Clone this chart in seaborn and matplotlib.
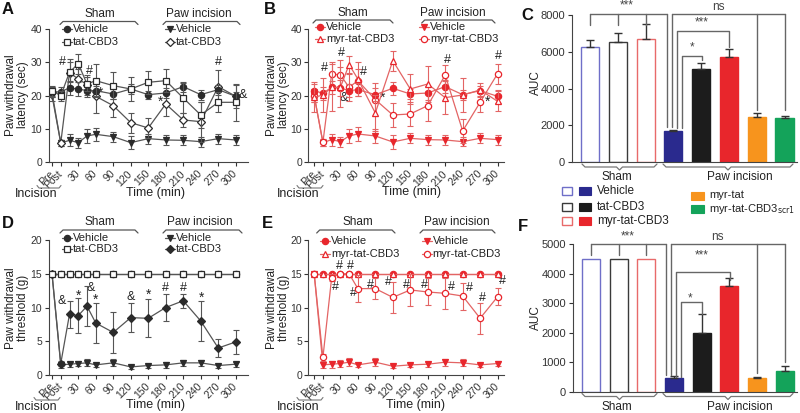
import matplotlib
matplotlib.use("Agg")
import matplotlib.pyplot as plt
import seaborn as sns
import numpy as np
import pandas as pd
from matplotlib.lines import Line2D
from matplotlib.patches import Rectangle

sns.set_theme(style="ticks")
plt.rcParams['font.family'] = ['Liberation Sans', 'DejaVu Sans']

W, H = 800, 413

# ---------------- data ----------------
times = [-15, 0, 15, 30, 45, 60, 90, 120, 150, 180, 210, 240, 270, 300]
tick_times = [-15, 0, 30, 60, 90, 120, 150, 180, 210, 240, 270, 300]
tick_labels = ["Pre", "Post", "30", "60", "90", "120", "150", "180", "210", "240", "270", "300"]

# Panel A (latency, tat-CBD3)
a_sham_veh = [21.0, 21.2, 22.3, 22.0, 21.5, 21.5, 20.5, 22.0, 20.3, 20.8, 22.7, 20.3, 21.8, 19.8]
a_sham_veh_err = [1.5, 1.5, 2.0, 2.0, 2.0, 1.5, 1.5, 1.5, 1.2, 1.5, 1.5, 1.5, 1.5, 1.2]
a_sham_tat = [21.5, 20.0, 27.0, 29.6, 23.5, 24.5, 23.0, 22.0, 24.0, 24.5, 19.3, 14.2, 18.0, 18.0]
a_sham_tat_err = [1.5, 1.5, 3.0, 3.0, 2.0, 5.0, 4.0, 3.5, 3.5, 3.5, 4.5, 4.0, 3.0, 5.5]
a_paw_veh = [20.0, 5.8, 6.6, 5.9, 7.9, 8.4, 7.7, 5.9, 7.1, 6.7, 6.6, 6.2, 7.1, 6.7]
a_paw_veh_err = [1.5, 1.0, 1.8, 1.5, 2.0, 2.0, 1.5, 2.0, 1.5, 1.5, 1.5, 1.5, 1.5, 1.5]
a_paw_tat = [21.0, 5.8, 26.9, 25.0, 23.3, 19.8, 17.0, 11.9, 10.3, 17.5, 12.7, 12.2, 22.7, 19.8]
a_paw_tat_err = [1.5, 1.0, 4.0, 3.0, 3.0, 5.0, 3.5, 3.0, 3.0, 3.5, 2.0, 6.0, 5.0, 3.5]

# Panel B (latency, myr-tat-CBD3)
b_sham_veh = [21.5, 20.7, 22.5, 22.3, 21.5, 21.8, 20.3, 22.2, 20.5, 20.8, 22.7, 20.3, 21.5, 19.8]
b_sham_veh_err = [2.0, 2.0, 2.0, 2.5, 2.0, 2.0, 2.0, 2.0, 1.5, 2.0, 2.0, 1.5, 1.5, 2.0]
b_sham_myr = [19.5, 20.2, 22.5, 22.5, 29.3, 25.0, 14.8, 30.5, 22.0, 23.5, 19.4, 20.2, 21.7, 18.3]
b_sham_myr_err = [4.5, 5.0, 7.0, 6.0, 2.5, 5.0, 5.5, 3.0, 4.5, 5.5, 5.0, 5.0, 2.0, 3.0]
b_paw_veh = [20.0, 5.9, 6.8, 6.2, 7.9, 8.5, 7.9, 6.1, 7.2, 6.8, 6.7, 6.2, 7.2, 6.8]
b_paw_veh_err = [2.0, 1.0, 1.8, 1.5, 2.0, 2.0, 2.0, 2.0, 1.5, 1.5, 1.5, 1.3, 1.5, 1.5]
b_paw_myr = [20.0, 6.0, 26.5, 26.2, 22.5, 24.5, 18.8, 14.2, 14.5, 17.0, 26.2, 9.4, 18.0, 26.6]
b_paw_myr_err = [2.0, 1.0, 3.5, 4.5, 4.0, 3.5, 5.0, 3.5, 3.5, 4.5, 3.0, 3.5, 3.0, 3.0]

# Panel D (threshold, tat-CBD3)
d_sham_veh = [15.0, 15.0, 15.0, 15.0, 15.0, 15.0, 15.0, 15.0, 15.0, 15.0, 15.0, 15.0, 15.0, 15.0]
d_sham_tat = [15.0, 15.0, 15.0, 15.0, 15.0, 15.0, 15.0, 15.0, 15.0, 15.0, 15.0, 15.0, 15.0, 15.0]
d_paw_veh = [15.0, 1.5, 1.6, 1.7, 1.8, 1.5, 1.8, 1.2, 1.4, 1.5, 1.8, 1.8, 1.4, 1.6]
d_paw_veh_err = [0.0, 0.5, 0.4, 0.4, 0.5, 0.3, 0.5, 0.3, 0.3, 0.4, 0.4, 0.4, 0.3, 0.4]
d_paw_tat = [15.0, 1.7, 9.0, 8.8, 10.2, 7.7, 6.3, 8.5, 8.4, 10.0, 11.0, 8.0, 4.0, 4.9]
d_paw_tat_err = [0.0, 0.4, 2.0, 2.6, 3.0, 3.0, 3.0, 2.2, 2.8, 2.0, 1.0, 2.9, 1.3, 1.8]

# Panel E (threshold, myr-tat-CBD3)
e_sham_veh = [15.0, 15.0, 15.0, 15.0, 15.0, 15.0, 15.0, 15.0, 15.0, 15.0, 15.0, 15.0, 15.0, 15.0]
e_sham_myr = [15.0, 15.0, 15.0, 15.0, 15.0, 15.0, 15.0, 15.0, 15.0, 15.0, 15.0, 15.0, 15.0, 15.0]
e_paw_veh = [15.0, 1.5, 1.6, 1.7, 1.9, 1.5, 1.9, 1.3, 1.5, 1.6, 1.9, 1.8, 1.5, 1.7]
e_paw_veh_err = [0.0, 0.4, 0.5, 0.5, 0.6, 0.3, 0.6, 0.3, 0.3, 0.4, 0.5, 0.5, 0.3, 0.4]
e_paw_myr = [15.0, 2.6, 14.4, 15.0, 15.0, 12.8, 12.8, 11.5, 12.6, 12.3, 12.1, 11.7, 8.4, 11.6]
e_paw_myr_err = [0.0, 0.5, 0.5, 0.0, 0.0, 2.0, 1.5, 2.3, 2.4, 2.0, 2.3, 2.0, 2.3, 1.3]

# Panels C and F (AUC)
bar_groups = ["Sham Vehicle", "Sham tat-CBD3", "Sham myr-tat-CBD3", "Paw Vehicle",
              "Paw tat-CBD3", "Paw myr-tat-CBD3", "Paw myr-tat", "Paw myr-tat-CBD3scr1"]
c_auc = [6250, 6550, 6700, 1680, 5080, 5720, 2480, 2430]
c_err = [380, 450, 800, 60, 320, 420, 180, 60]
f_auc = [4500, 4500, 4500, 450, 2000, 3580, 480, 700]
f_err = [0, 0, 0, 90, 620, 280, 30, 160]

# ---------------- styles ----------------
DARK = "#2b2b2b"
GLINE = "#555555"
RED = "#e8262c"
RLINE = "#e36464"
NAVY = "#2a2a8e"
ORANGE = "#f7941d"
GREEN = "#14a35a"
SHAM_EDGE = ["#6f6fc8", "#3a3a3a", "#e86a6a"]
BAR_FILL = ["white", "white", "white", NAVY, "#1c1c1c", RED, ORANGE, GREEN]
BAR_EDGE = SHAM_EDGE + [NAVY, "#1c1c1c", RED, ORANGE, GREEN]

fig = plt.figure(figsize=(8, 4.13), dpi=100)


def add_ax(x0, y0, x1, y1):
    return fig.add_axes([x0 / W, 1 - y1 / H, (x1 - x0) / W, (y1 - y0) / H])


def T(x, y, s, **kw):
    kw.setdefault("fontsize", 8.5)
    kw.setdefault("color", "#222222")
    fig.text(x / W, 1 - y / H, s, **kw)


def fline(pts, color="#555555", lw=0.9):
    xs = [p[0] / W for p in pts]
    ys = [1 - p[1] / H for p in pts]
    fig.add_artist(Line2D(xs, ys, color=color, lw=lw, transform=fig.transFigure))


def header(xc, yt, x0, x1, yl, text):
    T(xc, yt, text, ha="center", va="center")
    fline([(x0, yl + 3), (x0 + 3, yl), (x1 - 3, yl), (x1, yl + 3)])


def leg_item(x, y, marker, mfc, mec, lc, text, ms=4.5):
    fig.add_artist(Line2D([(x - 5) / W, (x + 5) / W], [1 - y / H] * 2, color=lc, lw=0.9,
                          transform=fig.transFigure))
    fig.add_artist(Line2D([x / W], [1 - y / H], marker=marker, mfc=mfc, mec=mec, ms=ms,
                          mew=0.9, ls="none", transform=fig.transFigure))
    T(x + 6, y, text, ha="left", va="center", fontsize=8)


def style_line_ax(ax, xlim, ylim, yticks):
    ax.set_xlim(*xlim)
    ax.set_ylim(*ylim)
    ax.set_yticks(yticks)
    ax.set_xticks(tick_times)
    ax.set_xticklabels(tick_labels, rotation=45, ha="right", va="center",
                       rotation_mode="anchor")
    ax.tick_params(axis="both", length=3, width=0.8, labelsize=7.5, colors="#333333", pad=1.5)
    ax.tick_params(axis="x", pad=4)
    for s in ["left", "bottom"]:
        ax.spines[s].set_linewidth(0.8)
        ax.spines[s].set_color("#444444")
    sns.despine(ax=ax)
    ax.set_xlabel("")
    ax.set_ylabel("")


def draw_series(ax, y, err, marker, mfc, mec, lc, z, ms=4.5):
    if err is not None:
        ax.errorbar(times, y, yerr=err, fmt="none", ecolor=lc, elinewidth=0.8,
                    capsize=2, capthick=0.8, zorder=z - 0.5)
    sns.lineplot(x=times, y=y, ax=ax, color=lc, lw=0.9, marker=marker, ms=ms,
                 markerfacecolor=mfc, markeredgecolor=mec, markeredgewidth=0.9,
                 zorder=z, errorbar=None, legend=False)


def annot(ax, items, color="#222222"):
    for (x, y, s) in items:
        fs = 10 if s == "*" else 9
        ax.text(x, y, s, ha="center", va="center", fontsize=fs, color=color, clip_on=False)


# ---------------- Panel A ----------------
axA = add_ax(48.5, 29, 248, 162.3)
draw_series(axA, a_paw_veh, a_paw_veh_err, "v", DARK, DARK, GLINE, 3)
draw_series(axA, a_paw_tat, a_paw_tat_err, "D", "white", DARK, GLINE, 4, ms=4)
draw_series(axA, a_sham_veh, a_sham_veh_err, "o", DARK, DARK, GLINE, 5)
draw_series(axA, a_sham_tat, a_sham_tat_err, "s", "white", DARK, GLINE, 6)
style_line_ax(axA, (-21, 321), (0, 40), [0, 10, 20, 30, 40])
annot(axA, [(3, 30, "#"), (31, 28.5, "#"), (50, 27.3, "#"), (69, 21, "*"), (171, 18.2, "*"),
            (270, 30, "#"), (312, 20.3, "&")])

# ---------------- Panel B ----------------
axB = add_ax(308.3, 29, 504, 162.3)
draw_series(axB, b_paw_veh, b_paw_veh_err, "v", RED, RED, RLINE, 3)
draw_series(axB, b_paw_myr, b_paw_myr_err, "o", "white", RED, RLINE, 4)
draw_series(axB, b_sham_veh, b_sham_veh_err, "o", RED, RED, RLINE, 5)
draw_series(axB, b_sham_myr, b_sham_myr_err, "^", "white", RED, RLINE, 6)
style_line_ax(axB, (-25.1, 311), (0, 40), [0, 10, 20, 30, 40])
annot(axB, [(2, 28.2, "#"), (31, 32.7, "#"), (70, 27.2, "#"), (35, 19.3, "&"), (102, 19.3, "*"),
            (213, 30.7, "#"), (282, 18.2, "*"), (302, 31.9, "#")])

# ---------------- Panel D ----------------
axD = add_ax(48.5, 240, 248, 375)
draw_series(axD, d_paw_veh, d_paw_veh_err, "v", DARK, DARK, GLINE, 3)
draw_series(axD, d_paw_tat, d_paw_tat_err, "D", DARK, DARK, GLINE, 4, ms=4)
draw_series(axD, d_sham_veh, None, "o", DARK, DARK, GLINE, 5)
draw_series(axD, d_sham_tat, None, "s", "white", DARK, GLINE, 6)
style_line_ax(axD, (-21, 321), (0, 20), [0, 5, 10, 15, 20])
annot(axD, [(2, 11.0, "&"), (30, 11.8, "*"), (52, 12.9, "&"), (60, 11.1, "*"), (120, 11.5, "&"),
            (151, 11.9, "*"), (180, 12.9, "#"), (210, 12.9, "#"), (241, 11.5, "*")])

# ---------------- Panel E ----------------
axE = add_ax(308.3, 240, 504, 375)
draw_series(axE, e_paw_veh, e_paw_veh_err, "v", RED, RED, RLINE, 3)
draw_series(axE, e_sham_veh, None, "o", RED, RED, RLINE, 4)
draw_series(axE, e_sham_myr, None, "^", "white", RED, RLINE, 5)
draw_series(axE, e_paw_myr, e_paw_myr_err, "o", "white", RED, RLINE, 6)
style_line_ax(axE, (-25.1, 311), (0, 20), [0, 5, 10, 15, 20])
annot(axE, [(28, 16.1, "#"), (22, 13.0, "#"), (48, 16.1, "#"), (52, 12.2, "#"), (81, 13.3, "#"),
            (112, 13.8, "#"), (144, 13.4, "#"), (174, 13.4, "#"), (220, 13.1, "#"),
            (251, 12.9, "#"), (274, 11.4, "#"), (308, 13.9, "#")])


# ---------------- Bar panels ----------------
def bar_panel(ax, vals, errs, ymax, yticks):
    df = pd.DataFrame({"group": bar_groups, "AUC": vals})
    sns.barplot(data=df, x="group", y="AUC", ax=ax, order=bar_groups, color="white",
                width=0.65, errorbar=None, linewidth=1.0)
    for p, fc, ec in zip(ax.patches, BAR_FILL, BAR_EDGE):
        p.set_facecolor(fc)
        p.set_edgecolor(ec)
        p.set_linewidth(1.0)
    xs = [i for i, e in enumerate(errs) if e > 0]
    ax.errorbar(xs, [vals[i] for i in xs], yerr=[[0] * len(xs), [errs[i] for i in xs]],
                fmt="none", ecolor="#333333", elinewidth=1.0, capsize=3, capthick=1.0, zorder=1)
    ax.set_xlim(-0.65, 7.45)
    ax.set_ylim(0, ymax)
    ax.set_yticks(yticks)
    ax.set_xticks([])
    ax.set_xlabel("")
    ax.set_ylabel("")
    ax.tick_params(axis="y", length=3, width=0.8, labelsize=8, colors="#333333", pad=2)
    for s in ["left", "bottom"]:
        ax.spines[s].set_linewidth(0.8)
        ax.spines[s].set_color("#444444")
    sns.despine(ax=ax)


def seg(ax, xs, ys):
    ax.add_line(Line2D(xs, ys, color="#666666", lw=1.0, clip_on=False))


def brackets(ax, top, sham_drop, left_end, left_drop, ns_left, ns_drops,
             b3, b1, txt):
    seg(ax, [0, left_end], [top, top])
    for i in [0, 1, 2]:
        seg(ax, [i, i], [top, sham_drop])
    seg(ax, [left_end, left_end], [top, left_drop])
    seg(ax, [ns_left, 7.01], [top, top])
    for (x, yb) in ns_drops:
        seg(ax, [x, x], [top, yb])
    (x0, x1, yh, yl0, yr) = b3
    seg(ax, [x0, x0, x1, x1], [yl0, yh, yh, yr])
    (x0, x1, yh, yl0, yr) = b1
    seg(ax, [x0, x0, x1, x1], [yl0, yh, yh, yr])
    for (x, y, s) in txt:
        ax.text(x, y, s, ha="center", va="center", fontsize=8.5, color="#444444", clip_on=False)


axC = add_ax(572, 15, 797, 162.3)
bar_panel(axC, c_auc, c_err, 8000, [0, 2000, 4000, 6000, 8000])
brackets(axC, 8050, 7450, 2.76, 1940, 2.94, [(2.94, 1940), (6.0, 2840), (7.01, 2840)],
         (3.12, 5.01, 7150, 1850, 6280), (3.3, 4.02, 5770, 1850, 5560),
         [(1.32, 8500, "***"), (4.62, 8450, "ns"), (4.02, 7600, "***"), (3.68, 6250, "*")])

axF = add_ax(573, 244, 797, 391.7)
bar_panel(axF, f_auc, f_err, 5000, [0, 1000, 2000, 3000, 4000, 5000])
brackets(axF, 5000, 4630, 2.7, 560, 2.88, [(2.88, 560), (6.0, 620), (7.01, 1020)],
         (3.06, 5.01, 4060, 510, 3780), (3.26, 4.02, 3025, 510, 2630),
         [(1.32, 5270, "***"), (4.56, 5230, "ns"), (4.0, 4600, "***"), (3.6, 3170, "*")])


def brace(x0, x1, y, xm=None):
    if xm is None:
        xm = (x0 + x1) / 2
    fline([(x0, y - 3), (x0 + 3, y), (xm - 3, y), (xm, y + 3), (xm + 3, y), (x1 - 3, y), (x1, y - 3)],
          color="#777777", lw=0.9)


brace(582, 657, 167)
brace(663, 793, 167)
T(617, 176.5, "Sham", ha="center", va="center")
T(740, 176.5, "Paw incision", ha="center", va="center")
brace(582, 657, 396.5)
brace(663, 793, 396.5)
T(617, 406.5, "Sham", ha="center", va="center")
T(740, 406.5, "Paw incision", ha="center", va="center")

T(536, 83, "AUC", rotation=90, ha="center", va="center")
T(536, 318, "AUC", rotation=90, ha="center", va="center")

# bar legend
leg_rows = [(191, "Vehicle", 0), (206.5, "tat-CBD3", 1), (221, "myr-tat-CBD3", 2)]
for (y, lab, i) in leg_rows:
    fig.add_artist(Rectangle((562 / W, 1 - (y + 4) / H), 10 / W, 8 / H, facecolor="white",
                             edgecolor=SHAM_EDGE[i], lw=1.0, transform=fig.transFigure))
    fig.add_artist(Rectangle((579 / W, 1 - (y + 4) / H), 12 / W, 8 / H, facecolor=BAR_FILL[3 + i],
                             edgecolor=BAR_EDGE[3 + i], lw=0.8, transform=fig.transFigure))
    T(597, y, lab, ha="left", va="center", fontsize=8.5)
for (y, lab, c) in [(195.5, "myr-tat", ORANGE), (209.5, "myr-tat-CBD3$_{\\mathrm{scr1}}$", GREEN)]:
    fig.add_artist(Rectangle((691 / W, 1 - (y + 4) / H), 13 / W, 8 / H, facecolor=c,
                             edgecolor=c, lw=0.8, transform=fig.transFigure))
    T(709, y, lab, ha="left", va="center", fontsize=8)

# ---------------- headers / legends for line panels ----------------
header(100, 14, 60, 138, 21.5, "Sham")
header(199, 14, 163, 240, 21.5, "Paw incision")
leg_item(66.7, 29.3, "o", DARK, DARK, GLINE, "Vehicle")
leg_item(66.7, 41.7, "s", "white", DARK, GLINE, "tat-CBD3")
leg_item(170, 29.3, "v", DARK, DARK, GLINE, "Vehicle")
leg_item(170, 41.7, "D", "white", DARK, GLINE, "tat-CBD3", ms=4)

header(353, 12.7, 313, 393, 20, "Sham")
header(453, 12.7, 421.7, 495, 20, "Paw incision")
leg_item(320, 26.7, "o", RED, RED, RLINE, "Vehicle")
leg_item(320, 39.3, "^", "white", RED, RLINE, "myr-tat-CBD3")
leg_item(424.3, 26.7, "v", RED, RED, RLINE, "Vehicle")
leg_item(424.3, 39.3, "o", "white", RED, RLINE, "myr-tat-CBD3")

header(100, 222.5, 60, 138, 230, "Sham")
header(200, 222.5, 163, 242, 230, "Paw incision")
leg_item(66.7, 238.3, "o", DARK, DARK, GLINE, "Vehicle")
leg_item(66.7, 249, "s", "white", DARK, GLINE, "tat-CBD3")
leg_item(170, 238.3, "v", DARK, DARK, GLINE, "Vehicle")
leg_item(170, 249, "D", DARK, DARK, GLINE, "tat-CBD3", ms=4)

header(357.7, 221.5, 316.7, 395, 230, "Sham")
header(456.7, 221.5, 420, 495, 230, "Paw incision")
leg_item(325, 241, "o", RED, RED, RLINE, "Vehicle")
leg_item(325, 254.3, "^", "white", RED, RLINE, "myr-tat-CBD3")
leg_item(426.7, 241, "v", RED, RED, RLINE, "Vehicle")
leg_item(426.7, 254.3, "o", "white", RED, RLINE, "myr-tat-CBD3")

# y labels
T(17, 95, "Paw withdrawal\nlatency (sec)", rotation=90, ha="center", va="center", linespacing=1.1)
T(278, 95, "Paw withdrawal\nlatency (sec)", rotation=90, ha="center", va="center", linespacing=1.1)
T(17, 308, "Paw withdrawal\nthreshold (g)", rotation=90, ha="center", va="center", linespacing=1.1)
T(278, 308, "Paw withdrawal\nthreshold (g)", rotation=90, ha="center", va="center", linespacing=1.1)

# x labels and incision brackets
for (xc, yc, xi, yi, bx0, bx1, by) in [(156, 193, 36, 194.5, 37, 61, 188),
                                       (411.7, 191.7, 298, 194.5, 297, 323, 188),
                                       (156, 405, 36, 406.5, 34, 60, 400),
                                       (415, 405, 298, 406.5, 297, 323, 400)]:
    T(xc, yc, "Time (min)", ha="center", va="center", fontsize=9)
    T(xi, yi, "Incision", ha="center", va="center", fontsize=9)
    fline([(bx0, by - 2.5), (bx0 + 2, by), (bx1 - 2, by), (bx1, by - 2.5)], color="#777777", lw=0.8)

# panel letters
for (x, y, s) in [(7.5, 9, "A"), (270, 9, "B"), (527, 15, "C"), (7.5, 223, "D"),
                  (267, 223, "E"), (523, 227, "F")]:
    T(x, y, s, ha="center", va="center", fontsize=12, fontweight="bold", color="#111111")

fig.savefig("out.png", dpi=100)
